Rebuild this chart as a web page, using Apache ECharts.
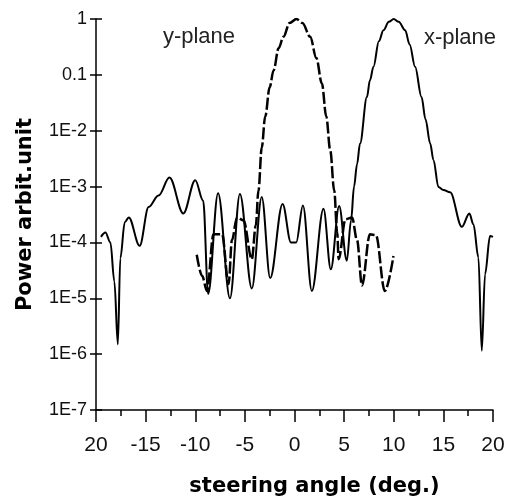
<!DOCTYPE html>
<html>
<head>
<meta charset="utf-8">
<script src="https://cdn.jsdelivr.net/npm/echarts@6/dist/echarts.min.js"></script>
<style>
html,body{margin:0;padding:0;background:#fff;}
#chart{width:508px;height:502px;}
</style>
</head>
<body>
<div id="chart"></div>
<script>
// ---- data ----
const xTickLabels = ['20', '-15', '-10', '-5', '0', '5', '10', '15', '20'];
const yTickLabels = ['1E-7', '1E-6', '1E-5', '1E-4', '1E-3', '1E-2', '0.1', '1'];

// x-plane pattern (main lobe steered to +10 deg)
const xPlaneAngles = [-19.5, -19.05, -18.55, -18.15, -17.8, -17.55, -17.1, -16.7, -15.6, -14.7, -13.7, -12.6, -11.2, -10.0, -9.2, -8.7, -7.7, -6.5, -5.5, -4.3, -3.3, -2.45, -1.2, -0.36, 0.17, 0.85, 1.75, 2.92, 3.66, 4.5, 5.27, 5.7, 6.0, 6.3, 6.6, 7.3, 7.6, 7.96, 8.5, 8.96, 9.5, 10.0, 10.5, 11.15, 11.6, 12.15, 12.8, 13.2, 13.67, 14.0, 14.5, 15.0, 15.68, 16.86, 17.62, 18.03, 18.53, 18.87, 19.2, 19.7, 20.0];
const xPlanePower = [1.26e-4, 1.5e-4, 1.0e-4, 2.0e-5, 1.5e-6, 5.2e-5, 2.3e-4, 2.8e-4, 8.7e-5, 4.3e-4, 6.9e-4, 1.45e-3, 3.3e-4, 1.3e-3, 5.6e-4, 1.2e-5, 7.6e-4, 1.0e-5, 7.4e-4, 1.5e-5, 6.5e-4, 2.3e-5, 4.9e-4, 1.0e-4, 1.0e-4, 4.6e-4, 1.35e-5, 4.0e-4, 3.3e-5, 4.5e-4, 4.7e-5, 2.5e-4, 1.0e-3, 2.5e-3, 5.9e-3, 4.0e-2, 8.0e-2, 0.14, 0.4, 0.63, 0.89, 1.0, 0.89, 0.63, 0.35, 0.14, 4.0e-2, 1.6e-2, 5.9e-3, 3.0e-3, 9.8e-4, 8.7e-4, 7.9e-4, 1.9e-4, 3.3e-4, 2.1e-4, 5.4e-5, 1.15e-6, 2.7e-5, 1.3e-4, 1.26e-4];

// y-plane pattern (main lobe at 0 deg)
const yPlaneAngles = [-9.85, -9.3, -8.82, -8.16, -7.3, -6.64, -6.3, -5.8, -5.14, -4.3, -3.9, -3.63, -3.3, -2.95, -2.5, -2.11, -1.6, -1.11, -0.5, 0.2, 0.8, 1.58, 2.2, 2.76, 3.2, 3.6, 4.0, 4.3, 4.45, 5.14, 5.8, 6.3, 6.8, 7.6, 8.2, 9.1, 9.97];
const yPlanePower = [6.0e-5, 2.5e-5, 1.35e-5, 1.4e-4, 1.4e-4, 1.8e-5, 1.1e-4, 2.8e-4, 2.5e-4, 5.0e-5, 2.0e-4, 8.5e-4, 5.0e-3, 1.8e-2, 6.0e-2, 0.12, 0.3, 0.48, 0.85, 1.0, 0.85, 0.48, 0.2, 7.0e-2, 1.8e-2, 4.5e-3, 8.5e-4, 1.5e-4, 5.0e-5, 2.6e-4, 2.8e-4, 1.1e-4, 1.7e-5, 1.4e-4, 1.35e-4, 1.35e-5, 5.7e-5];

const pairs = (xs, ys) => xs.map((x, i) => [x, ys[i]]);

const chart = echarts.init(document.getElementById('chart'), null, {renderer: 'canvas'});
const axisColor = '#000';
chart.setOption({
  animation: false,
  backgroundColor: '#fff',
  grid: {left: 96, top: 19, right: 15, bottom: 91},
  xAxis: {
    type: 'value',
    min: -20, max: 20, interval: 5,
    name: 'steering angle (deg.)',
    nameLocation: 'middle',
    nameGap: 66,
    nameTextStyle: {fontFamily: 'DejaVu Sans', fontWeight: 'bold', fontSize: 21, color: '#000', padding: [0, 0, 0, 40]},
    axisLine: {show: true, onZero: false, lineStyle: {color: axisColor, width: 1.5}},
    axisTick: {show: true, length: 12, lineStyle: {color: axisColor, width: 1.5}},
    minorTick: {show: true, splitNumber: 2, length: 6, lineStyle: {color: axisColor, width: 1.5}},
    axisLabel: {
      margin: 25, fontSize: 21, fontFamily: 'Liberation Sans', color: '#111',
      formatter: v => xTickLabels[Math.round((v + 20) / 5)]
    },
    splitLine: {show: false}
  },
  yAxis: [{
    type: 'log', logBase: 10, min: 1e-7, max: 1, splitNumber: 7,
    name: 'Power arbit.unit',
    nameLocation: 'middle',
    nameGap: 60,
    nameRotate: 90,
    nameTextStyle: {fontFamily: 'DejaVu Sans', fontWeight: 'bold', fontSize: 21, color: '#000'},
    axisLine: {show: true, onZero: false, lineStyle: {color: axisColor, width: 1.5}},
    axisTick: {show: true, length: 6, lineStyle: {color: axisColor, width: 1.5}},
    axisLabel: {
      margin: 9, fontSize: 18, fontFamily: 'Liberation Sans', color: '#111',
      formatter: v => yTickLabels[Math.round(Math.log10(v)) + 7]
    },
    splitLine: {show: false}
  }, {
    type: 'log', logBase: 10, min: 1e-7, max: 1, splitNumber: 7,
    position: 'left',
    axisLine: {show: false, onZero: false},
    axisTick: {show: true, inside: true, length: 6, lineStyle: {color: axisColor, width: 1.5}},
    axisLabel: {show: false},
    splitLine: {show: false}
  }],
  series: [{
    name: 'x-plane',
    type: 'line',
    data: pairs(xPlaneAngles, xPlanePower),
    showSymbol: false,
    symbol: 'none',
    smooth: 0.35,
    smoothMonotone: 'x',
    lineStyle: {color: '#000', width: 2}
  }, {
    name: 'y-plane',
    type: 'line',
    data: pairs(yPlaneAngles, yPlanePower),
    showSymbol: false,
    symbol: 'none',
    smooth: 0.35,
    smoothMonotone: 'x',
    lineStyle: {color: '#000', width: 2.5, type: [12, 3]}
  }],
  graphic: [{
    type: 'text',
    style: {text: 'y-plane', x: 199, y: 37, fill: '#222', font: '22px "Liberation Sans"', align: 'center', verticalAlign: 'middle'}
  }, {
    type: 'text',
    style: {text: 'x-plane', x: 460, y: 38, fill: '#222', font: '22px "Liberation Sans"', align: 'center', verticalAlign: 'middle'}
  }]
});
</script>
</body>
</html>
